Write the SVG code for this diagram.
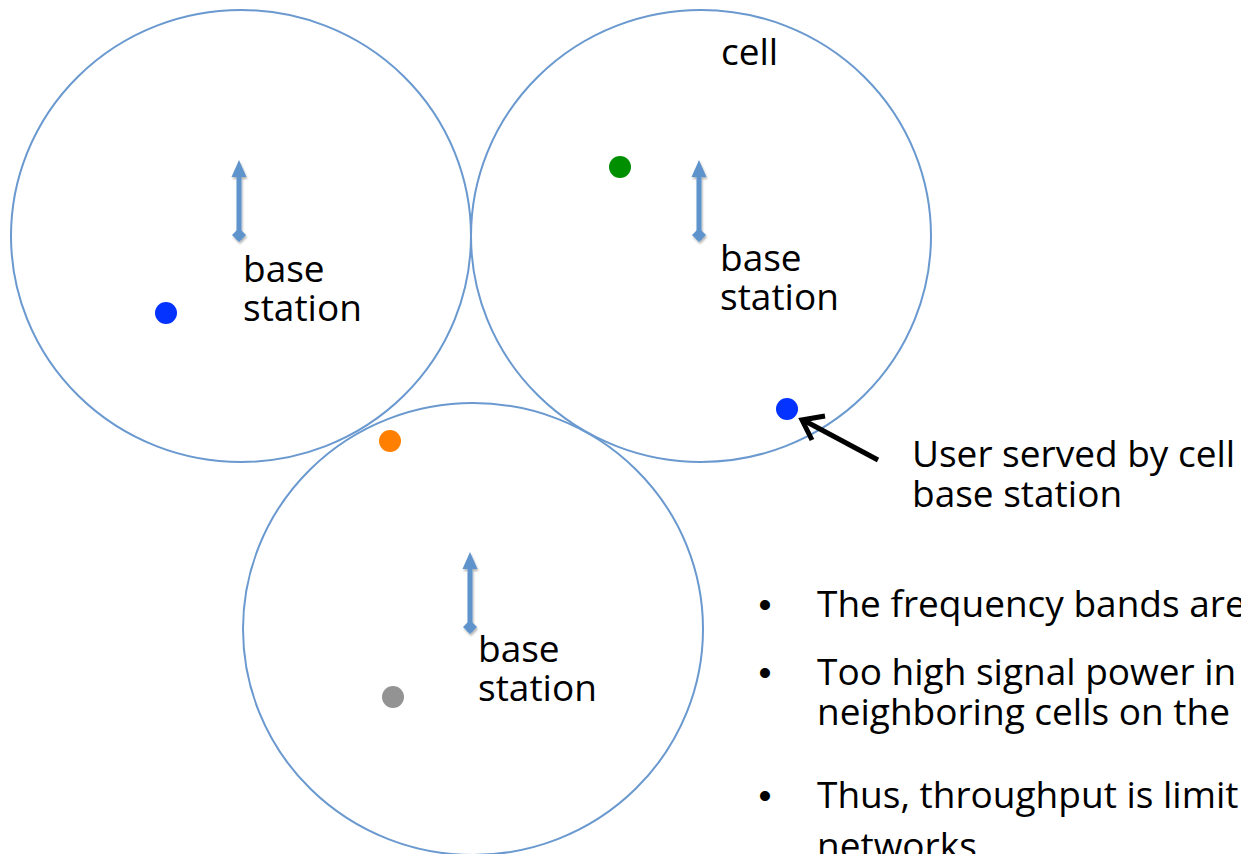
<svg xmlns="http://www.w3.org/2000/svg" width="1241" height="854" viewBox="0 0 1241 854">
  <defs>
    <style>
      .cell { fill: none; stroke: #6A99CF; stroke-width: 2; }
      .label { font-family: "Open Sans", Lato, "Liberation Sans", sans-serif; font-size: 37px; fill: #000; }
      .bullet { font-family: "Liberation Sans", sans-serif; font-size: 37px; fill: #000; text-anchor: middle; }
      .antenna { fill: #5F93CB; }
      .pointer { fill: none; stroke: #000; stroke-width: 5; }
    </style>
    <filter id="shadow" x="-50%" y="-20%" width="200%" height="140%">
      <feDropShadow dx="1" dy="2" stdDeviation="1.2" flood-color="#000" flood-opacity="0.3"/>
    </filter>
    <!-- base station mast: arrowhead on top, diamond at the foot -->
    <g id="mast">
      <rect x="-2.5" y="14" width="5" height="66" class="antenna"/>
      <polygon points="0,0 7.5,17 -7.5,17" class="antenna"/>
      <polygon points="0,68 7,75 0,82 -7,75" class="antenna"/>
    </g>
  </defs>
  <rect width="1241" height="854" fill="#fff"/>

  <!-- cell coverage areas -->
  <g id="cell-left">
    <ellipse class="cell" cx="241" cy="236" rx="230" ry="226"/>
    <use href="#mast" x="239" y="160" filter="url(#shadow)"/>
    <text class="label" x="243" y="282">base</text>
    <text class="label" x="243" y="321">station</text>
    <circle cx="166" cy="313" r="11" fill="#0433FF"/>
  </g>

  <g id="cell-right">
    <ellipse class="cell" cx="701" cy="236" rx="230" ry="226"/>
    <text class="label" x="721" y="65">cell</text>
    <use href="#mast" x="699" y="160" filter="url(#shadow)"/>
    <text class="label" x="720" y="271">base</text>
    <text class="label" x="720" y="310">station</text>
    <circle cx="620" cy="167" r="11" fill="#008F00"/>
    <circle cx="787" cy="409" r="11" fill="#0433FF"/>
  </g>

  <g id="cell-bottom">
    <ellipse class="cell" cx="473" cy="629" rx="230" ry="226"/>
    <use href="#mast" x="470" y="552" filter="url(#shadow)"/>
    <text class="label" x="478" y="662">base</text>
    <text class="label" x="478" y="701">station</text>
    <circle cx="390" cy="441" r="11" fill="#FF8000"/>
    <circle cx="393" cy="697" r="11" fill="#939393"/>
  </g>

  <!-- callout to the served user -->
  <g id="connectors">
    <line class="pointer" x1="878" y1="460" x2="805" y2="421"/>
    <polyline class="pointer" points="825,416 802,420 812,440" stroke-linejoin="miter"/>
  </g>

  <g id="user-note">
    <text class="label" x="912" y="467">User served by cell</text>
    <text class="label" x="912" y="507">base station</text>
  </g>

  <g id="bullets">
    <text class="bullet" x="765" y="617">•</text>
    <text class="label" x="817" y="617">The frequency bands are</text>
    <text class="bullet" x="765" y="685">•</text>
    <text class="label" x="817" y="685">Too high signal power in</text>
    <text class="label" x="817" y="725">neighboring cells on the</text>
    <text class="bullet" x="765" y="808">•</text>
    <text class="label" x="817" y="808">Thus, throughput is limit</text>
    <text class="label" x="817" y="859">networks</text>
  </g>
</svg>
